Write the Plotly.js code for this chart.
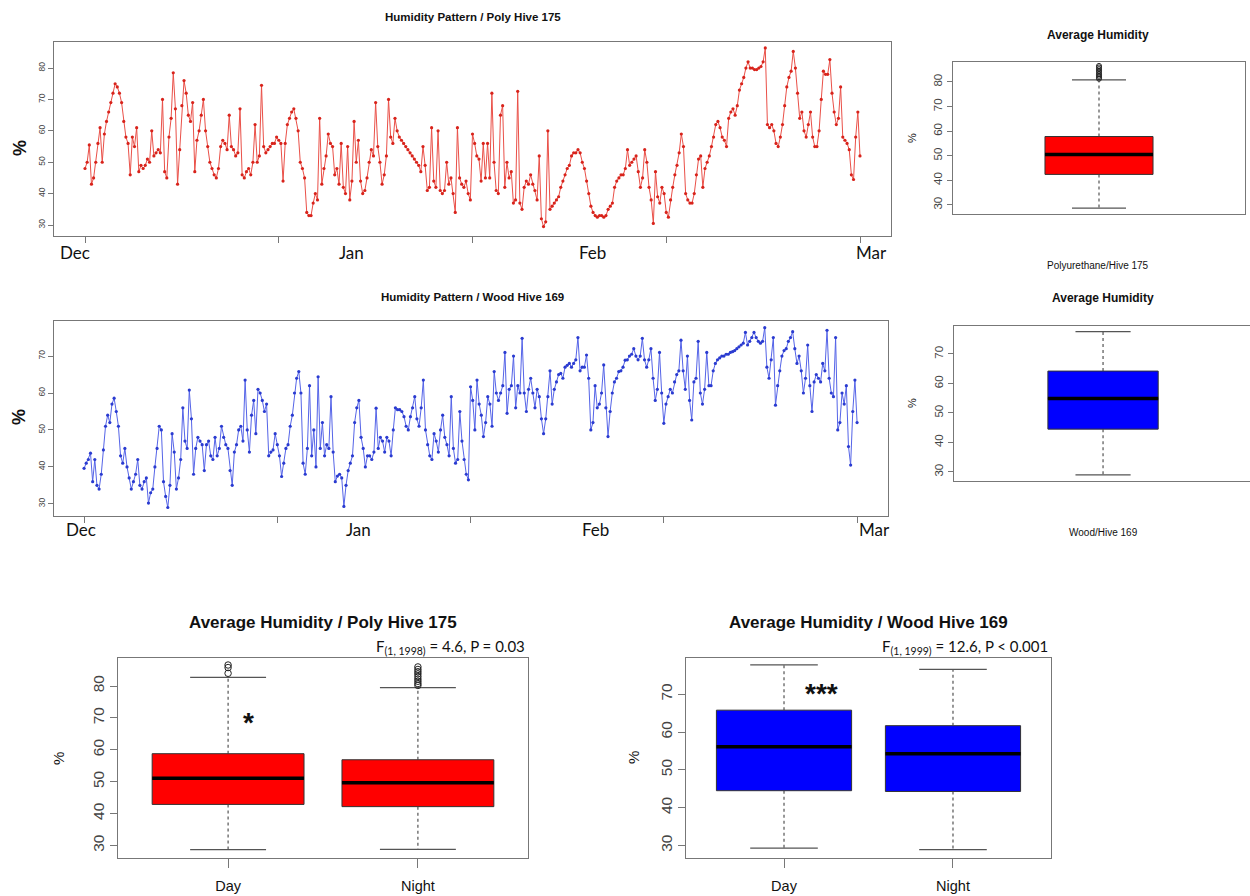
<!DOCTYPE html>
<html><head><meta charset="utf-8">
<script src="https://cdn.plot.ly/plotly-3.0.1.min.js"></script>
<style>html,body{margin:0;padding:0;background:#fff}#chart{width:1250px;height:896px}</style>
</head><body><div id="chart"></div>
<script>
// ---------- data ----------
const stepDays = 0.25; // readings every 6 h, starting 1 Dec
const polyRH = [
48,50,55.5,43, 45,50,56,61, 50,59,63,66, 69,72,75,74, 72,69,63,58,
56,46,58,55, 61,47,49,48, 49,51,50,60, 52,53,54,53, 70,47,45,58,
64,78.5,67,43, 54,68,76,72, 65,63,69,47, 57,60,65,70, 60,55,50,48,
46,45,48,55, 57,56,54,65, 55,54,52,53, 67,46,45,47, 48,46,50,62,
50,52,74.5,55, 53,54,55,56, 56,58,57,56, 44,56,62,64, 66,67,64,60,
50,48,45,34, 33,33,37,40, 38,64,43,48, 52,59,56,55, 46,48,43,56,
42,40,55,38, 44,63,50,57, 44,40,41,45, 50,54,52,69, 55,50,43,46,
52,70,58,56, 64,60,58,57, 56,55,54,53, 52,51,50,49, 47,55,49,41,
42,61,44,42, 60,41,40,41, 50,43,45,40, 34,61,45,43, 42,44,40,38,
59,56,52,51, 44,56,45,56, 45,72,50,41, 40,65,68,42, 50,45,47,37,
38,72.6,37,35, 42,44,43,46, 43,41,38,52, 32,29.5,31,60, 35,36,37,38,
39,42,44,46, 48,49,52,53, 53,54,53,50, 48,44,40,36, 34,33,32.5,33,
33,32.5,33,35, 36,37,42,44, 45,46,46,48, 54,49,50,51, 52,47,42,45,
54,50,42,38, 30.5,47,39,37, 42,40,34,32.5, 38,42,46,49, 53,59,55,40,
38,37,37,40, 46,51,52,42, 48,50,52,55, 58,62,63,61, 58,57,55,64,
66,67,65,68, 73,75,77,80, 82,80,80,79.5, 79.5,80,80.5,82, 86.4,62,61,62,
60,56,55,58, 62,68,74,77, 79,85.3,80,72, 64,66,60,58, 62,66,58,55,
55,60,70,79, 78,78,82.7,72, 66,62,64,74, 58,57,56,54, 46,44.5,58,66,
52
];
const woodRH = [
39.6,41,42,43.7, 36,42,35,34, 38,44.6,51,54, 52,57,58.6,55, 51,43,41,45,
40,37,34,36, 38,42,35,34, 36,37,30.2,33, 34,40,45,51, 50,36,32,29,
35,49,44,34, 37,42,56,47, 45,60.8,53,38, 45,48,47,46, 39,46,47,43,
42,48,43,45, 51,48,46,45, 39,35,44,46, 50,51,47,63.5, 50,44,54,58,
49,61,60,58, 55,57,43,44, 44.6,49,46,43, 37.4,41,45,46, 51,54,60,64,
65.8,60,41,38, 45,62,43,50, 40,64.4,45,52, 43,46,45,59, 44,36,37.5,38,
37,29.3,35,39, 41,43,52,56, 58,48,45,40, 43,43,42,44, 55.9,45,48,47,
44,48,47,43, 50,56,55.5,55.5, 55,53.6,51,50, 53.6,56,59,53, 51,56,63.5,50,
46,43,42,49, 47,44,50,54, 48,46,43,59, 45,41,42,55, 47,42,38,36.5,
61.7,58,50,63.5, 57,54,48.2,52, 59,57,51,65.8, 60,58,60,62, 71,54.5,61,62,
70,56,62,60, 74.8,60,55,61, 64,60,56,61, 59,53,49,53, 59,66,57,61,
63,65,65.3,64, 67,67.5,68,67, 68,69,75,66, 67,67,70.3,64, 50,52,62,56,
57,60,67.6,56, 48.2,55,60,63, 64,65.8,66,67, 68.9,69,70,70.5, 72,70,69,70,
74.8,69,67,69, 72,64,58,61, 71,60,51.8,57, 59,61,60,63, 65,66,74.3,66,
61,70,58,52.7, 63,64,74,60, 57,61,71,62, 62,66,68,69, 69.5,70,70,70.5,
70.5,71,71.2,71.5, 72,72.5,73,73.5, 76.4,73,74,75, 76.4,75,74,73.5, 74,77.7,67,64,
69,75,56.7,62, 66,70,71.5,72, 74,75,76.6,72, 68,70,66,60, 64,73,62,55,
63,65,64,63, 68,66,77,64, 60,59,75,50, 52,60,57,62, 45.5,40.5,55,63.5,
52
];
const monthLabels = ['Dec','Jan','Feb','Mar'];

// overall boxplots: [lower whisker, Q1, median, Q3, upper whisker]
const polyAllStats = [28.7, 42.4, 50.5, 57.8, 80.8];
const polyAllOutliers = [81.3, 81.9, 82.5, 83.1, 83.8, 84.5, 85.2, 85.9, 86.5];
const woodAllStats = [29.0, 44.5, 54.9, 64.2, 77.6];

// day / night boxplots
const groups = ['Day', 'Night'];
const polyLow = [28.7, 28.8], polyQ1 = [42.9, 42.2], polyMed = [51.1, 49.7], polyQ3 = [58.8, 56.9], polyUp = [82.7, 79.5];
const polyDayOutliers = [84.0, 85.8, 86.6];
const polyNightOutliers = [80.2, 80.8, 81.5, 82.2, 83.0, 83.8, 84.5, 85.2, 86.0];
const woodLow = [29.3, 28.9], woodQ1 = [44.5, 44.3], woodMed = [56.1, 54.3], woodQ3 = [65.8, 61.7], woodUp = [77.8, 76.6];

// ---------- helpers ----------
const RED = '#ff0000', BLUE = '#0000ff';
const days = polyRH.map((_, i) => i * stepDays);
const daysW = woodRH.map((_, i) => i * stepDays);

function boxTraces(xc, low, q1, med, q3, up, color, ax, boxW, capW) {
  const xa = 'x' + ax, ya = 'y' + ax;
  return [
    {type:'scatter', mode:'lines', x:[xc, xc, null, xc, xc], y:[q3, up, null, q1, low],
     line:{color:'#444', width:1.1, dash:'3px,3px'}, xaxis:xa, yaxis:ya, hoverinfo:'skip'},
    {type:'scatter', mode:'lines', x:[xc-capW/2, xc+capW/2, null, xc-capW/2, xc+capW/2], y:[up, up, null, low, low],
     line:{color:'#555', width:1.2}, xaxis:xa, yaxis:ya, hoverinfo:'skip'},
    {type:'box', x:[xc], q1:[q1], median:[med], q3:[q3], lowerfence:[q1], upperfence:[q3],
     boxpoints:false, whiskerwidth:0, width:boxW, fillcolor:color, line:{color:'#333', width:1},
     xaxis:xa, yaxis:ya, hoverinfo:'skip'},
    {type:'scatter', mode:'lines', x:[xc-boxW/2, xc+boxW/2], y:[med, med],
     line:{color:'#000', width:3.5}, xaxis:xa, yaxis:ya, hoverinfo:'skip'}
  ];
}
function outlierTrace(xc, vals, ax, size) {
  return {type:'scatter', mode:'markers', x:vals.map(() => xc), y:vals,
    marker:{symbol:'circle-open', size:size, color:'#222', line:{width:1}},
    xaxis:'x'+ax, yaxis:'y'+ax, hoverinfo:'skip'};
}

const traces = [
  {type:'scatter', mode:'lines+markers', x:days, y:polyRH, xaxis:'x', yaxis:'y',
   line:{color:'#ea5048', width:1}, marker:{color:'#d8231b', size:3.2}},
  {type:'scatter', mode:'lines+markers', x:daysW, y:woodRH, xaxis:'x2', yaxis:'y2',
   line:{color:'#5564e8', width:1}, marker:{color:'#2a3bd0', size:3.2}},
  ...boxTraces(1, ...polyAllStats, RED, 3, 0.37, 0.185),
  outlierTrace(1, polyAllOutliers, 3, 5),
  ...boxTraces(1, ...woodAllStats, BLUE, 4, 0.37, 0.185),
  ...boxTraces(1, polyLow[0], polyQ1[0], polyMed[0], polyQ3[0], polyUp[0], RED, 5, 0.8, 0.4),
  ...boxTraces(2, polyLow[1], polyQ1[1], polyMed[1], polyQ3[1], polyUp[1], RED, 5, 0.8, 0.4),
  outlierTrace(1, polyDayOutliers, 5, 6.5),
  outlierTrace(2, polyNightOutliers, 5, 6.5),
  ...boxTraces(1, woodLow[0], woodQ1[0], woodMed[0], woodQ3[0], woodUp[0], BLUE, 6, 0.8, 0.4),
  ...boxTraces(2, woodLow[1], woodQ1[1], woodMed[1], woodQ3[1], woodUp[1], BLUE, 6, 0.8, 0.4)
];

// ---------- layout ----------
const W = 1250, H = 896;
const px = v => v / W, py = v => 1 - v / H;
const frame = {showline:true, linecolor:'#777', linewidth:1, mirror:true, zeroline:false, showgrid:false,
  ticks:'outside', tickcolor:'#777', type:'linear', fixedrange:true};
const ticks5 = [0, 22.5, 45, 67.5, 90];
const tsX = (dom, rng, anchor) => Object.assign({}, frame, {domain:dom, range:rng, anchor:anchor,
  tickvals:ticks5, showticklabels:false, ticklen:6});
const yAx = (dom, rng, anchor, vals, size, len) => Object.assign({}, frame, {domain:dom, range:rng, anchor:anchor,
  tickvals:vals, tickangle:-90, ticklen:len, tickfont:{size:size, color:'#444', family:'Liberation Sans'}});
const t80 = [30,40,50,60,70,80], t70 = [30,40,50,60,70];

const layout = {
  width:W, height:H, margin:{l:0, r:0, t:0, b:0}, showlegend:false,
  paper_bgcolor:'#fff', plot_bgcolor:'#fff', font:{family:'Liberation Sans, Arial', color:'#111'},
  xaxis: tsX([px(54), px(891)], [-3.6, 93.6], 'y'),
  yaxis: yAx([py(236), py(42)], [26.5, 88.3], 'x', t80, 8.5, 5),
  xaxis2: tsX([px(54), px(888)], [-3.5, 93.6], 'y2'),
  yaxis2: yAx([py(516), py(321)], [26.7, 79.5], 'x2', t70, 8.5, 5),
  xaxis3: Object.assign({}, frame, {domain:[px(953), px(1245)], range:[0.5, 1.5], anchor:'y3', ticks:'', showticklabels:false}),
  yaxis3: yAx([py(214), py(62)], [26.3, 88.1], 'x3', t80, 11.5, 5),
  xaxis4: Object.assign({}, frame, {domain:[px(954), 1], range:[0.5, 1.493], anchor:'y4', ticks:'', showticklabels:false}),
  yaxis4: yAx([py(481), py(326)], [26.9, 79.5], 'x4', t70, 11.5, 5),
  xaxis5: Object.assign({}, frame, {domain:[px(118), px(528)], range:[0.42, 2.58], anchor:'y5',
    tickvals:[1,2], ticktext:groups, ticklen:9, ticklabelstandoff:6, tickfont:{size:14.5, color:'#111'}}),
  yaxis5: yAx([py(858), py(658)], [26.1, 88.8], 'x5', t80, 15.5, 7),
  xaxis6: Object.assign({}, frame, {domain:[px(686), px(1051)], range:[0.42, 2.58], anchor:'y6',
    tickvals:[1,2], ticktext:groups, ticklen:9, ticklabelstandoff:6, tickfont:{size:14.5, color:'#111'}}),
  yaxis6: yAx([py(858), py(658)], [26.7, 79.6], 'x6', t70, 15.5, 7),
  annotations: []
};

const A = layout.annotations;
function note(text, x, y, size, extra) {
  A.push(Object.assign({text:text, x:px(x), y:py(y), xref:'paper', yref:'paper', showarrow:false,
    xanchor:'center', yanchor:'middle', font:{size:size, color:'#111', family:'Liberation Sans, Arial'}}, extra || {}));
}
note('<b>Humidity Pattern / Poly Hive 175</b>', 473, 17, 11.5);
note('<b>Humidity Pattern / Wood Hive 169</b>', 472, 297, 11.5);
note('<b>%</b>', 20, 148, 18, {textangle:-90});
note('<b>%</b>', 19, 417, 18, {textangle:-90});
note('<b>Average Humidity</b>', 1098, 35, 12);
note('<b>Average Humidity</b>', 1103, 298, 12);
note('Polyurethane/Hive 175', 1098, 265, 10);
note('Wood/Hive 169', 1103, 532, 10);
note('%', 912, 138, 11, {textangle:-90});
note('%', 912, 403, 11, {textangle:-90});
note('<b>Average Humidity / Poly Hive 175</b>', 323, 622, 17);
note('<b>Average Humidity / Wood Hive 169</b>', 868, 622, 17);
note('%', 58, 758, 15, {textangle:-90});
note('%', 633, 758, 15, {textangle:-90});
note('F<sub>(1, 1998)</sub> = 4.6, P = 0.03', 527, 647, 15, {xanchor:'right', font:{size:15, color:'#111', family:'Lato'}});
note('F<sub>(1, 1999)</sub> = 12.6, P < 0.001', 1050, 647, 15, {xanchor:'right', font:{size:15, color:'#111', family:'Lato'}});
note('<b>*</b>', 249, 722, 28);
note('<b>***</b>', 821, 693, 28);

// month labels (placed under each time-series panel)
const monthPosTop = [-1.2, 31.0, 58.9, 91.3];
const monthPosMid = [-0.35, 31.9, 59.6, 92.0];
monthLabels.forEach((m, i) => {
  A.push({text:m, x:monthPosTop[i], y:py(252), xref:'x', yref:'paper', showarrow:false,
    xanchor:'center', yanchor:'middle', font:{size:17, color:'#111', family:'Lato'}});
  A.push({text:m, x:monthPosMid[i], y:py(529), xref:'x2', yref:'paper', showarrow:false,
    xanchor:'center', yanchor:'middle', font:{size:17, color:'#111', family:'Lato'}});
});

Plotly.newPlot('chart', traces, layout, {staticPlot:true, displayModeBar:false});
</script>
</body></html>
